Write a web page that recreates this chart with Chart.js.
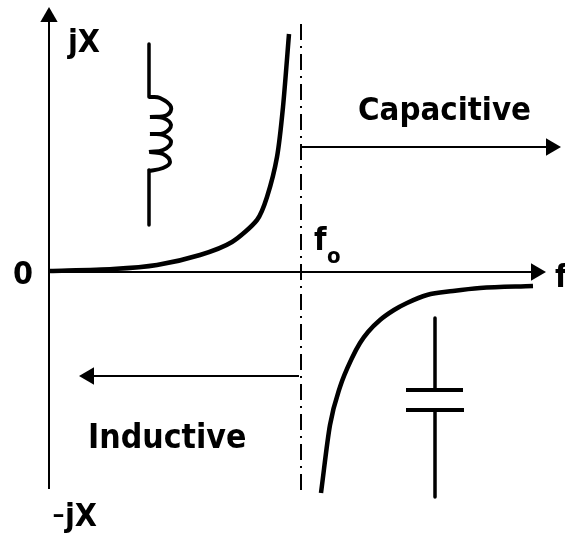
<!DOCTYPE html>
<html>
<head>
<meta charset="utf-8">
<title>Reactance vs frequency</title>
<script src="https://cdn.jsdelivr.net/npm/chart.js@4/dist/chart.umd.min.js"></script>
<style>
  html, body { margin: 0; padding: 0; background: #fff; }
  canvas { display: block; }
</style>
</head>
<body>
<canvas id="chart" width="565" height="533"></canvas>
<script>
// CURVES (frequency, reactance)
const inductiveCurve = [[1,1],[64,3],[108,7],[151,17],[183,30],[208,52],[218,75],[228,115],[234,165],[240,238]];
const capacitiveCurve = [[272,-221],[281,-153],[291,-115],[303,-86],[311,-71],[319,-60],[331,-48],[345,-38],[358,-31],[378,-23],[404,-19],[431,-16],[484,-14]];

// AXES, RESONANCE LINE, REGION ARROWS
const xAxisLine = [[0,0],[485,0]];
const yAxisLine = [[0,-217],[0,254]];
const resonanceLine = [[252,248],[252,-218]];
const capacitiveArrow = [[252,125],[500,125]];
const inductiveArrow = [[250,-104],[42,-104]];

// ARROW HEADS
const arrowHeads = [[0,255],[487,0],[502,125],[40,-104]];
const arrowAngles = [0,90,90,270];

// INDUCTOR SYMBOL
const inductorLeads = [[100,228],[100,175],[null,null],[100,102],[100,47]];
const inductorCoil = [
  [100,175],[111,174],[122,165],[118,157],[101,155],[null,null],
  [101,155],[114,154],[122,147],[115,139],[101,138],[null,null],
  [101,138],[114,137],[122,130],[114,122],[100,120],[null,null],
  [101,120],[114,118],[121,110],[114,104],[99,101]
];

// CAPACITOR SYMBOL
const capacitorLeads = [[386,-46],[386,-118],[null,null],[386,-138],[386,-225]];
const capacitorPlates = [[357,-118],[414,-118],[null,null],[357,-138],[415,-138]];

// TEXT LABELS
const labelTexts = ["jX","0","-","jX","f","Capacitive","Inductive","f","o"];
const labelXs = [19,-36,3,16,506,309,39,265,278];
const labelYs = [220,-12,-253,-254,-15,152,-176,22,9];
const labelFonts = [
  "bold condensed 32px",
  "bold condensed 32px",
  "normal 36px",
  "bold condensed 32px",
  "bold condensed 32px",
  "bold condensed 32.7px",
  "bold condensed 33.5px",
  "bold condensed 32px",
  "bold condensed 22px",
];

function toPoints(pairs) {
  return pairs.map((p) => ({ x: p[0], y: p[1] }));
}

function lineSet(pairs, width, extra) {
  return Object.assign({
    data: toPoints(pairs),
    borderColor: "#000",
    borderWidth: width,
    pointRadius: 0,
    showLine: true,
    spanGaps: false,
    borderCapStyle: "butt",
    borderJoinStyle: "round",
    clip: false,
  }, extra);
}

// draws the text labels at data positions
const textLabels = {
  id: "textLabels",
  afterDatasetsDraw(chart) {
    const ctx = chart.ctx;
    ctx.save();
    ctx.fillStyle = "#000";
    ctx.textBaseline = "alphabetic";
    labelTexts.forEach((text, i) => {
      ctx.font = `${labelFonts[i]} "DejaVu Sans"`;
      ctx.fillText(text, chart.scales.x.getPixelForValue(labelXs[i]), chart.scales.y.getPixelForValue(labelYs[i]));
    });
    ctx.restore();
  },
};

new Chart(document.getElementById("chart"), {
  type: "scatter",
  data: {
    datasets: [
      lineSet(xAxisLine, 2),
      lineSet(yAxisLine, 2),
      lineSet(resonanceLine, 2, { borderDash: [16, 6, 2, 6] }),
      lineSet(capacitiveArrow, 2),
      lineSet(inductiveArrow, 2),
      lineSet(inductiveCurve, 4.5, { tension: 0.25 }),
      lineSet(capacitiveCurve, 4.5, { cubicInterpolationMode: "monotone" }),
      lineSet(inductorLeads, 3.5),
      lineSet(inductorCoil, 4, { tension: 0.4 }),
      lineSet(capacitorLeads, 3.5),
      lineSet(capacitorPlates, 4),
      {
        data: toPoints(arrowHeads),
        showLine: false,
        pointStyle: "triangle",
        pointRadius: 10,
        pointRotation: arrowAngles,
        backgroundColor: "#000",
        borderColor: "#000",
        borderWidth: 0,
        clip: false,
      },
    ],
  },
  options: {
    responsive: false,
    animation: false,
    layout: { padding: 0, autoPadding: false },
    plugins: { legend: { display: false }, tooltip: { enabled: false } },
    scales: {
      x: { type: "linear", min: -49, max: 516, display: false },
      y: { type: "linear", min: -261, max: 272, display: false },
    },
  },
  plugins: [textLabels],
});
</script>
</body>
</html>
